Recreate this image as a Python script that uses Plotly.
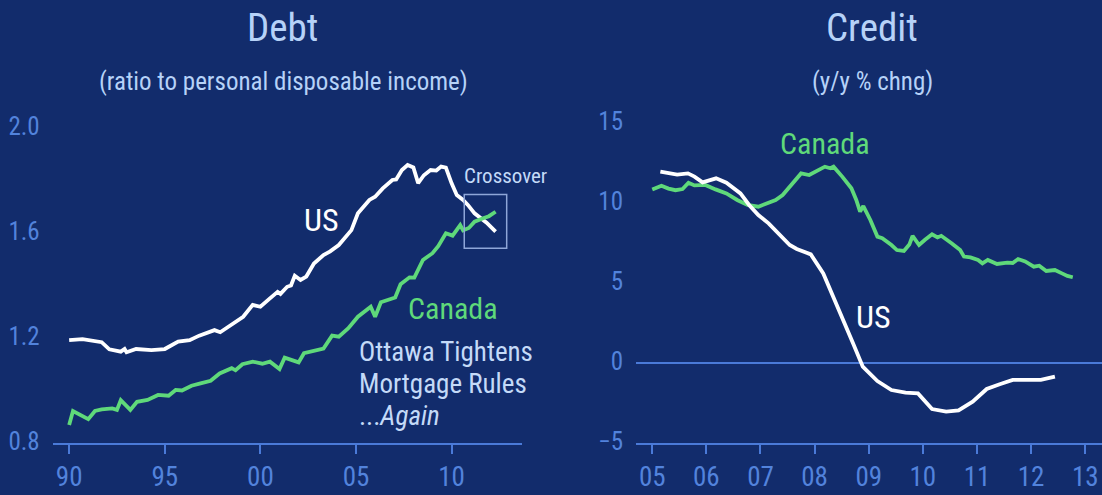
import plotly.graph_objects as go

# ---------------- data ----------------
# Debt (ratio to personal disposable income)
us_debt_x = [1990.0, 1990.7, 1991.7, 1992.1, 1992.7, 1992.9, 1993.0, 1993.5, 1994.3, 1995.0,
             1995.7, 1996.3, 1996.8, 1997.6, 1997.9, 1998.5, 1999.1, 1999.6, 2000.0, 2000.5,
             2000.9, 2001.05, 2001.4, 2001.6, 2001.8, 2002.1, 2002.4, 2002.8, 2003.3, 2003.65,
             2004.1, 2004.76, 2005.1, 2005.7, 2006.0, 2006.4, 2006.9, 2007.1, 2007.4, 2007.7,
             2008.0, 2008.25, 2008.55, 2008.9, 2009.2, 2009.45, 2009.7, 2010.0, 2010.27, 2010.6,
             2010.85, 2011.2, 2011.83, 2012.3]
us_debt = [1.192, 1.196, 1.184, 1.157, 1.148, 1.158, 1.146, 1.158, 1.154, 1.158,
           1.186, 1.192, 1.209, 1.230, 1.222, 1.250, 1.281, 1.326, 1.319, 1.351,
           1.376, 1.368, 1.395, 1.400, 1.437, 1.421, 1.434, 1.484, 1.516, 1.530,
           1.554, 1.611, 1.675, 1.726, 1.738, 1.770, 1.802, 1.804, 1.840, 1.859,
           1.850, 1.790, 1.820, 1.840, 1.838, 1.853, 1.849, 1.789, 1.745, 1.726,
           1.707, 1.675, 1.639, 1.605]

ca_debt_x = [1990.0, 1990.2, 1991.0, 1991.35, 1991.7, 1992.25, 1992.5, 1992.7, 1993.2, 1993.55,
             1994.1, 1994.65, 1995.2, 1995.57, 1995.9, 1996.4, 1996.87, 1997.4, 1997.87, 1998.5,
             1998.7, 1999.06, 1999.6, 2000.1, 2000.5, 2001.0, 2001.27, 2002.0, 2002.28, 2002.74,
             2003.3, 2003.75, 2004.1, 2004.6, 2005.1, 2005.77, 2006.0, 2006.3, 2007.05, 2007.33,
             2007.8, 2008.05, 2008.5, 2009.0, 2009.3, 2009.7, 2010.05, 2010.45, 2010.6, 2010.9,
             2011.2, 2011.65, 2011.95, 2012.3]
ca_debt = [0.869, 0.922, 0.891, 0.922, 0.928, 0.932, 0.926, 0.963, 0.926, 0.957,
           0.964, 0.983, 0.980, 1.002, 1.000, 1.018, 1.027, 1.037, 1.065, 1.085,
           1.077, 1.100, 1.110, 1.102, 1.110, 1.082, 1.125, 1.107, 1.142, 1.150,
           1.160, 1.209, 1.205, 1.237, 1.281, 1.319, 1.281, 1.336, 1.354, 1.405,
           1.431, 1.430, 1.497, 1.523, 1.550, 1.599, 1.590, 1.630, 1.610, 1.619,
           1.643, 1.656, 1.664, 1.681]

# Credit (y/y % chng)
ca_credit_x = [2005.0, 2005.17, 2005.3, 2005.43, 2005.56, 2005.67, 2005.78, 2005.98, 2006.17, 2006.37,
               2006.57, 2006.76, 2006.96, 2007.1, 2007.28, 2007.41, 2007.6, 2007.75, 2007.9, 2008.03,
               2008.19, 2008.29, 2008.35, 2008.51, 2008.68, 2008.77, 2008.84, 2008.9, 2009.03, 2009.16,
               2009.25, 2009.42, 2009.52, 2009.65, 2009.75, 2009.81, 2009.93, 2010.04, 2010.17, 2010.27,
               2010.34, 2010.53, 2010.69, 2010.76, 2010.88, 2011.02, 2011.1, 2011.2, 2011.37, 2011.56,
               2011.66, 2011.76, 2011.89, 2012.05, 2012.15, 2012.28, 2012.44, 2012.57, 2012.67, 2012.77]
ca_credit = [10.85, 11.08, 10.90, 10.80, 10.87, 11.27, 11.10, 11.13, 10.85, 10.60,
             10.19, 9.875, 9.77, 9.94, 10.19, 10.50, 11.27, 11.85, 11.75, 11.96,
             12.27, 12.17, 12.27, 11.65, 10.92, 10.19, 9.46, 9.81, 8.94, 7.90,
             7.80, 7.375, 7.06, 7.00, 7.40, 7.94, 7.375, 7.70, 8.04, 7.85,
             7.95, 7.48, 7.06, 6.65, 6.60, 6.44, 6.23, 6.44, 6.19, 6.27,
             6.25, 6.50, 6.35, 6.02, 6.08, 5.75, 5.81, 5.60, 5.44, 5.36]

us_credit_x = [2005.15, 2005.33, 2005.46, 2005.66, 2005.78, 2005.93, 2006.18, 2006.37, 2006.63, 2006.79,
               2006.96, 2007.15, 2007.41, 2007.54, 2007.67, 2007.93, 2008.16, 2008.32, 2008.51, 2008.71,
               2008.89, 2009.16, 2009.42, 2009.68, 2009.91, 2010.17, 2010.43, 2010.66, 2010.92, 2011.18,
               2011.42, 2011.66, 2011.99, 2012.18, 2012.44]
us_credit = [11.96, 11.85, 11.77, 11.85, 11.65, 11.29, 11.54, 11.27, 10.60, 9.875,
             9.25, 8.73, 7.79, 7.375, 7.125, 6.79, 5.60, 4.35, 2.90, 1.23,
             -0.23, -1.125, -1.69, -1.85, -1.90, -2.875, -3.04, -2.96, -2.42, -1.625,
             -1.33, -1.06, -1.06, -1.06, -0.85]

debt_tickvals = [1990, 1995, 2000, 2005, 2010]
debt_ticktext = ["90", "95", "00", "05", "10"]
credit_tickvals = [2005, 2006, 2007, 2008, 2009, 2010, 2011, 2012, 2013]
credit_ticktext = ["05", "06", "07", "08", "09", "10", "11", "12", "13"]
debt_yticks = [0.8, 1.2, 1.6, 2.0]
debt_yticktext = ["0.8", "1.2", "1.6", "2.0"]
credit_yticks = [-5, 0, 5, 10, 15]

# ---------------- style ----------------
FONT = "Roboto Condensed, Liberation Sans Narrow, sans-serif"
BG = "#122c6c"
AXIS = "#4a7ad8"
TICKLBL = "#5283dc"
TITLE = "#b6d2f8"
GREEN = "#5fd97a"
WHITE = "#ffffff"
NOTE = "#c4daf8"
LW = 3.8

fig = go.Figure()
fig.add_trace(go.Scatter(x=us_debt_x, y=us_debt, mode="lines",
                         line=dict(color=WHITE, width=LW), xaxis="x", yaxis="y"))
fig.add_trace(go.Scatter(x=ca_debt_x, y=ca_debt, mode="lines",
                         line=dict(color=GREEN, width=LW), xaxis="x", yaxis="y"))
fig.add_trace(go.Scatter(x=ca_credit_x, y=ca_credit, mode="lines",
                         line=dict(color=GREEN, width=LW), xaxis="x2", yaxis="y2"))
fig.add_trace(go.Scatter(x=us_credit_x, y=us_credit, mode="lines",
                         line=dict(color=WHITE, width=LW), xaxis="x2", yaxis="y2"))

W, H = 1102, 495
def px_x(p):
    return p / W
def px_y(p):
    return (H - p) / H

xaxis_common = dict(showgrid=False, zeroline=False, showline=True, linecolor=AXIS, linewidth=2,
                    ticks="outside", ticklen=9, tickwidth=2, tickcolor=AXIS, automargin=False,
                    tickfont=dict(family=FONT, size=27, color=TICKLBL), fixedrange=True)
yaxis_common = dict(showgrid=False, showline=False, ticks="", automargin=False,
                    tickfont=dict(family=FONT, size=25, color=TICKLBL), fixedrange=True,
                    ticklabelshift=-2, ticklabelstandoff=12)

fig.update_layout(
    width=W, height=H,
    margin=dict(l=0, r=0, t=0, b=0, autoexpand=False),
    paper_bgcolor=BG, plot_bgcolor="rgba(0,0,0,0)",
    showlegend=False,
    font=dict(family=FONT),
    xaxis=dict(domain=[px_x(52.7), px_x(521.8)], range=[1989.14, 2013.67], anchor="y",
               tickvals=debt_tickvals, ticktext=debt_ticktext, **xaxis_common),
    yaxis=dict(domain=[px_y(443), px_y(128)], range=[0.8, 2.0], anchor="x",
               tickvals=debt_yticks, ticktext=debt_yticktext, zeroline=False, **yaxis_common),
    xaxis2=dict(domain=[px_x(636), 1.0], range=[2004.7, 2013.31], anchor="y2",
                tickvals=credit_tickvals, ticktext=credit_ticktext, **xaxis_common),
    yaxis2=dict(domain=[px_y(443), px_y(123)], range=[-5, 15], anchor="x2",
                tickvals=credit_yticks, zeroline=True, zerolinecolor=AXIS, zerolinewidth=1.5,
                **yaxis_common),
)

ann = []
def paper_note(text, x, y, size, color, xanchor="center"):
    ann.append(dict(text=text, x=px_x(x), y=px_y(y), xref="paper", yref="paper",
                    xanchor=xanchor, yanchor="middle", showarrow=False,
                    font=dict(family=FONT, size=size, color=color)))
def data_note(text, x, y, axis, size, color):
    ann.append(dict(text=text, x=x, y=y, xref="x" + axis, yref="y" + axis,
                    xanchor="center", yanchor="middle", showarrow=False,
                    font=dict(family=FONT, size=size, color=color)))

# Titles
paper_note("Debt", 282, 28, 39, TITLE)
paper_note("(ratio to personal disposable income)", 283, 81, 25, TITLE)
paper_note("Credit", 872, 28, 39, TITLE)
paper_note("(y/y % chng)", 872, 81, 25, TITLE)
# Debt panel labels
data_note("US", 2003.17, 1.649, "", 32, WHITE)
data_note("Canada", 2010.07, 1.314, "", 30, GREEN)
data_note("Crossover", 2012.8, 1.817, "", 21, NOTE)
for txt, yy in [("Ottawa Tightens", 352), ("Mortgage Rules", 384), ("...<i>Again</i>", 416)]:
    paper_note(txt, 357, yy, 27, NOTE, xanchor="left")
# Credit panel labels
data_note("Canada", 2008.19, 13.75, "2", 30, GREEN)
data_note("US", 2009.09, 2.875, "2", 32, WHITE)
fig.update_layout(annotations=ann)

fig.add_shape(type="rect", xref="x", yref="y", x0=2010.66, x1=2012.88, y0=1.542, y1=1.747,
              line=dict(color="#8ea6d8", width=1.5), fillcolor="rgba(0,0,0,0)")

fig.write_html("out.html", config={"displayModeBar": False},
               post_script="document.body.style.margin='0';document.body.style.background='#122c6c';")
